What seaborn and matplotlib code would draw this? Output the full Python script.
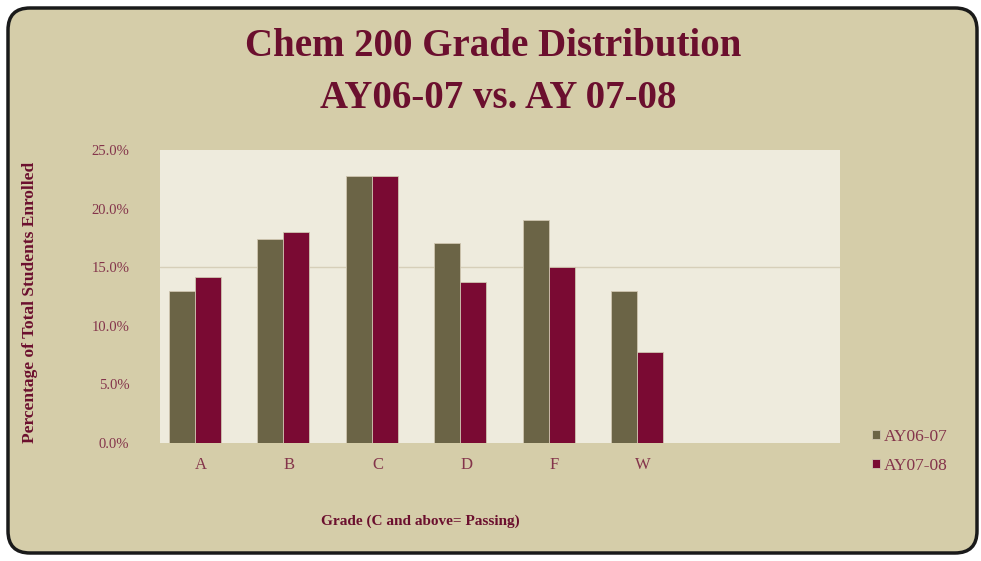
import pandas as pd
import seaborn as sns
import matplotlib.pyplot as plt
from matplotlib.patches import FancyBboxPatch
from matplotlib.transforms import ScaledTranslation

# ============ Data ============
grades = ["A", "B", "C", "D", "F", "W"]
ay0607 = [13.0, 17.4, 22.8, 17.1, 19.0, 13.0]
ay0708 = [14.2, 18.0, 22.8, 13.7, 15.0, 7.8]
series_names = ["AY06-07", "AY07-08"]

df = pd.DataFrame({
    "Grade": grades * 2,
    "Percent": ay0607 + ay0708,
    "Year": [series_names[0]] * len(grades) + [series_names[1]] * len(grades),
})

# ============ Style ============
sns.set_style("white")
plt.rcParams['font.family'] = ['Liberation Serif', 'DejaVu Serif']

BG = "#D5CDA9"
PANEL = "#EEEBDD"
MAROON = "#6B0F2E"
TICK_RED = "#84344B"
palette = {"AY06-07": "#6B6446", "AY07-08": "#7A0A33"}

fig = plt.figure(figsize=(9.81, 5.61), dpi=100)
fig.patch.set_facecolor("white")

# rounded parchment frame, behind everything
frame = FancyBboxPatch((0.08, 0.08), 9.69, 5.45,
                       boxstyle="round,pad=0,rounding_size=0.22",
                       transform=fig.dpi_scale_trans,
                       facecolor=BG, edgecolor="#1a1a1a", linewidth=2.5,
                       zorder=-10)
fig.patches.append(frame)

ax = fig.add_axes([160 / 981, 118 / 561, 680 / 981, 293 / 561])
ax.set_zorder(1)
ax.set_facecolor(PANEL)

sns.barplot(data=df, x="Grade", y="Percent", hue="Year", palette=palette,
            width=0.59, gap=0, saturation=1, ax=ax, zorder=3,
            edgecolor="#cfc6b0", linewidth=0.6)

ax.set_xlim(-0.396, 7.296)
ax.set_ylim(0, 25)
ax.set_yticks([0, 5, 10, 15, 20, 25])
ax.set_yticklabels([f"{v:.1f}%" for v in [0, 5, 10, 15, 20, 25]])
ax.axhline(15, color="#d6cfb9", linewidth=1.0, zorder=1)

for s in ax.spines.values():
    s.set_visible(False)

ax.tick_params(axis="y", length=0, pad=22, labelsize=10.5, labelcolor=TICK_RED)
ax.tick_params(axis="x", length=0, pad=10, labelsize=12, labelcolor=TICK_RED)
for lbl in ax.get_xticklabels():
    lbl.set_transform(lbl.get_transform() + ScaledTranslation(0.06, 0, fig.dpi_scale_trans))

ax.set_xlabel("Grade (C and above= Passing)", fontsize=11, fontweight="bold",
              color=MAROON)
ax.xaxis.set_label_coords(260 / 680, -72 / 293)
ax.set_ylabel("Percentage of Total Students Enrolled", fontsize=12.5,
              fontweight="bold", color=MAROON)
ax.yaxis.set_label_coords(-122 / 680, 0.48)

# ============ Title ============
fig.text(0.503, 1 - 46 / 561, "Chem 200 Grade Distribution", ha="center",
         va="center", fontsize=28, fontweight="bold", color=MAROON)
fig.text(0.508, 1 - 98 / 561, "AY06-07 vs. AY 07-08", ha="center",
         va="center", fontsize=28, fontweight="bold", color=MAROON)

# ============ Legend ============
leg = ax.legend(loc="center left", bbox_to_anchor=(0.889, 0.196),
                bbox_transform=fig.transFigure, frameon=False,
                handlelength=0.45, handleheight=0.45, handletextpad=0.25,
                labelspacing=0.75, fontsize=12.5, title=None,
                borderpad=0, borderaxespad=0)
for t in leg.get_texts():
    t.set_color(TICK_RED)

fig.savefig("out.png", dpi=100, facecolor=fig.get_facecolor())
